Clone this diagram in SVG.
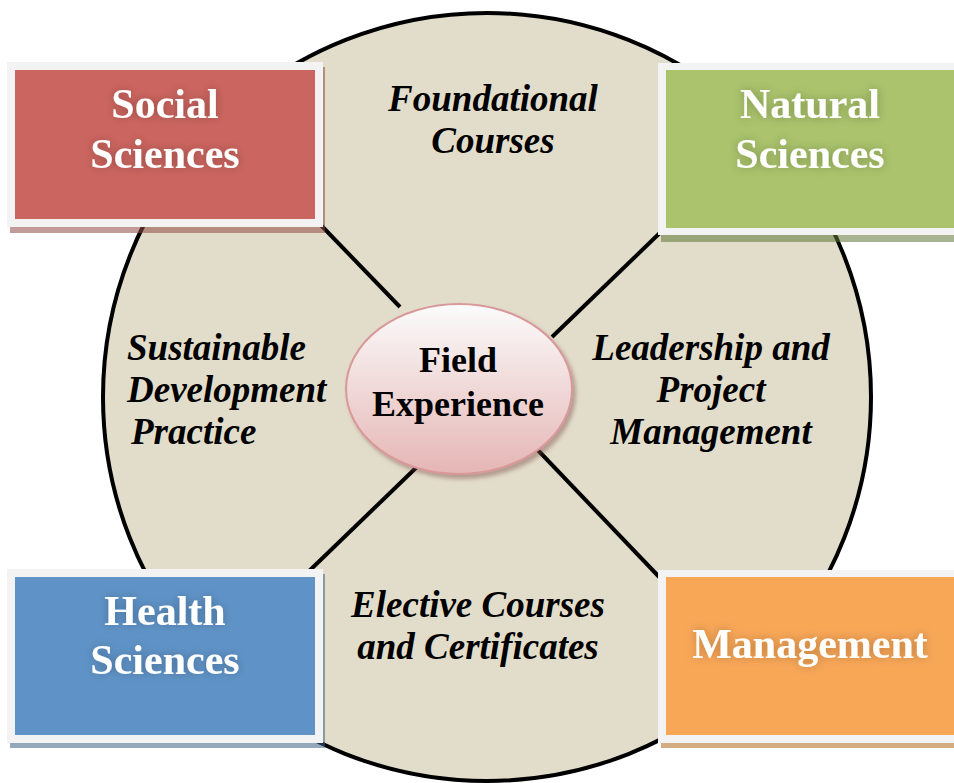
<svg xmlns="http://www.w3.org/2000/svg" width="954" height="783" viewBox="0 0 954 783">
<defs>
<linearGradient id="pinkGrad" x1="0" y1="0" x2="0" y2="1">
<stop offset="0" stop-color="#FBFBFB"/>
<stop offset="1" stop-color="#E5B6B5"/>
</linearGradient>
<filter id="glow" x="-20%" y="-40%" width="140%" height="180%">
<feGaussianBlur in="SourceAlpha" stdDeviation="5" result="b"/>
<feFlood flood-color="#000" flood-opacity="0.25"/>
<feComposite in2="b" operator="in" result="s"/>
<feMerge><feMergeNode in="s"/><feMergeNode in="SourceGraphic"/></feMerge>
</filter>
<filter id="ellShadow" x="-20%" y="-20%" width="140%" height="140%">
<feGaussianBlur in="SourceAlpha" stdDeviation="2" result="b"/>
<feOffset dx="3" dy="4" in="b" result="o"/>
<feFlood flood-color="#7a4a48" flood-opacity="0.45"/>
<feComposite in2="o" operator="in" result="s"/>
<feMerge><feMergeNode in="s"/><feMergeNode in="SourceGraphic"/></feMerge>
</filter>
</defs>
<style>
.seg{font-family:"Liberation Serif","Times New Roman",serif;font-weight:bold;font-style:italic;font-size:37px;fill:#000;}
.title{font-family:"Liberation Serif","Times New Roman",serif;font-weight:bold;font-size:42px;fill:#fff;text-anchor:middle;}
.center{font-family:"Liberation Serif","Times New Roman",serif;font-weight:bold;font-size:36px;fill:#000;text-anchor:middle;}
.frame{fill:#F3F3F3;}
.conn{stroke:#000;stroke-width:4;fill:none;}
</style>

<g id="ring">
<circle cx="487" cy="397" r="384" fill="#E2DDCA" stroke="#000" stroke-width="4"/>
</g>

<g id="connectors">
<line class="conn" x1="315" y1="219" x2="400" y2="307"/>
<line class="conn" x1="666" y1="227" x2="552" y2="337"/>
<line class="conn" x1="305" y1="575" x2="421" y2="463"/>
<line class="conn" x1="664" y1="582" x2="533" y2="445"/>
</g>

<g id="segment-labels">
<text class="seg" text-anchor="middle" x="493" y="111">Foundational</text>
<text class="seg" text-anchor="middle" x="493" y="153">Courses</text>
<text class="seg" x="127" y="360">Sustainable</text>
<text class="seg" x="127" y="402">Development</text>
<text class="seg" x="131" y="444">Practice</text>
<text class="seg" text-anchor="middle" x="711" y="360">Leadership and</text>
<text class="seg" text-anchor="middle" x="711" y="402">Project</text>
<text class="seg" text-anchor="middle" x="711" y="444">Management</text>
<text class="seg" text-anchor="middle" x="478" y="617">Elective Courses</text>
<text class="seg" text-anchor="middle" x="478" y="659">and Certificates</text>
</g>

<g id="field-experience">
<ellipse cx="459" cy="389" rx="113" ry="85" fill="url(#pinkGrad)" stroke="#D9989A" stroke-width="2" filter="url(#ellShadow)"/>
<text class="center" x="458" y="372">Field</text>
<text class="center" x="458" y="416">Experience</text>
</g>

<g id="social-sciences">
<rect x="10" y="67" width="315" height="166" fill="#8E4A44" opacity="0.55"/>
<rect class="frame" x="7" y="62" width="316" height="165"/>
<rect x="15" y="70" width="300" height="149" fill="#CB655F"/>
<g filter="url(#glow)">
<text class="title" x="165" y="118">Social</text>
<text class="title" x="165" y="168">Sciences</text>
</g>
</g>

<g id="natural-sciences">
<rect x="661" y="68" width="300" height="174" fill="#5F7437" opacity="0.55"/>
<rect class="frame" x="658" y="63" width="300" height="172"/>
<rect x="666" y="70" width="292" height="158" fill="#AAC36C"/>
<g filter="url(#glow)">
<text class="title" x="810" y="118">Natural</text>
<text class="title" x="810" y="168">Sciences</text>
</g>
</g>

<g id="health-sciences">
<rect x="10" y="574" width="315" height="174" fill="#3E5E86" opacity="0.55"/>
<rect class="frame" x="7" y="569" width="316" height="174"/>
<rect x="15" y="577" width="300" height="158" fill="#5F93C7"/>
<g filter="url(#glow)">
<text class="title" x="165" y="625">Health</text>
<text class="title" x="165" y="674">Sciences</text>
</g>
</g>

<g id="management">
<rect x="661" y="575" width="300" height="173" fill="#B5742E" opacity="0.6"/>
<rect class="frame" x="658" y="570" width="300" height="173"/>
<rect x="666" y="577" width="292" height="158" fill="#F8A757"/>
<g filter="url(#glow)">
<text class="title" x="810" y="658">Management</text>
</g>
</g>
</svg>
